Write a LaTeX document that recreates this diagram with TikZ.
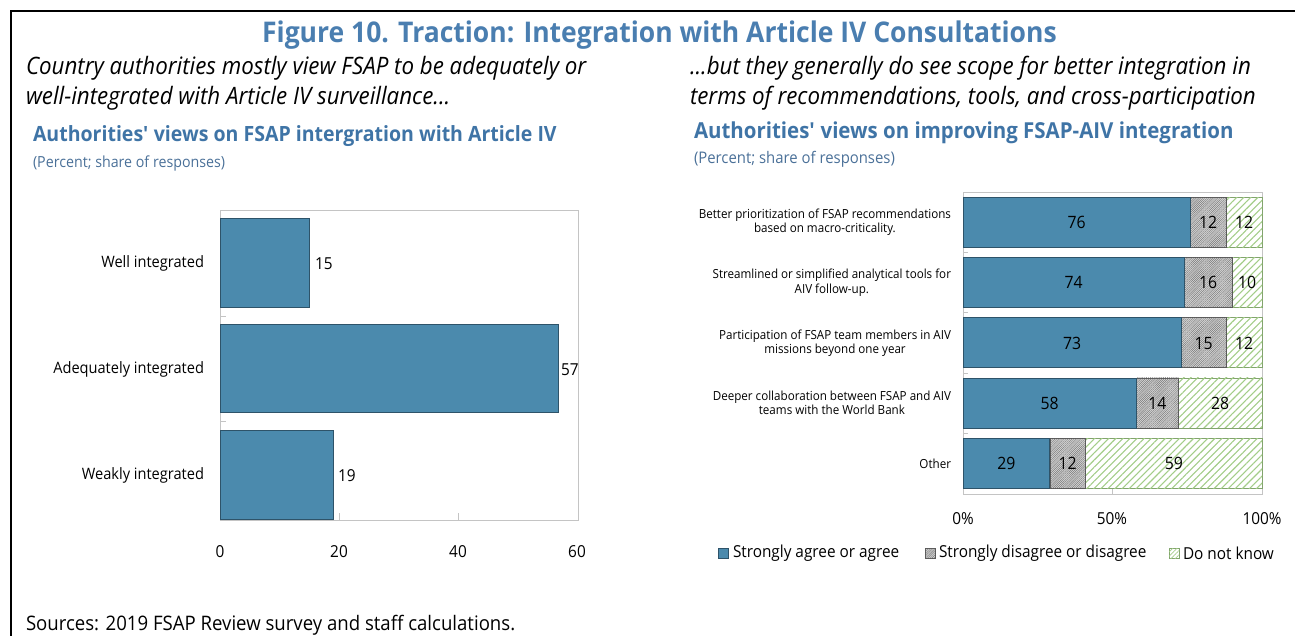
\documentclass[tikz,border=0pt]{standalone}
\usepackage{fontspec}
\setmainfont{Open Sans}[FakeStretch=0.93]
\usetikzlibrary{patterns.meta}
\definecolor{figblue}{HTML}{4A7EB0}
\definecolor{chtblue}{HTML}{3F74A6}
\definecolor{subblue}{HTML}{4A7098}
\definecolor{barblue}{HTML}{4B8AAD}
\definecolor{barline}{HTML}{2E5369}
\definecolor{framegray}{HTML}{C4C4C4}
\definecolor{hgray}{HTML}{D2D2D2}
\definecolor{hgreen}{HTML}{A3CD88}
\tikzset{
  fs/.style={font=\fontsize{#1}{#1}\selectfont},
  fsb/.style={font=\fontsize{#1}{#1}\selectfont\bfseries},
  fsi/.style={font=\fontsize{#1}{#1}\selectfont\itshape},
  txt/.style={inner sep=0pt, outer sep=0pt},
  agree/.style={fill=barblue, draw=barline, line width=0.6pt},
  disag/.style={fill=hgray, draw=gray!70!black, line width=0.4pt},
  disaghatch/.style={pattern={Lines[angle=45,distance=1.5pt,line width=0.3pt]}, pattern color=gray!80!black},
  dkbg/.style={fill=white, draw=hgreen!80!black, line width=0.4pt},
  dkhatch/.style={pattern={Lines[angle=45,distance=5pt,line width=1.1pt]}, pattern color=hgreen},
  pframe/.style={draw=framegray, line width=0.9pt},
  tick/.style={draw=framegray, line width=0.8pt},
}
\begin{document}
\begin{tikzpicture}[x=1pt,y=-1pt]
\useasboundingbox (0,0) rectangle (1295,635);
\clip (0,0) rectangle (1295,635);
% frame
\draw[line width=2pt] (11,636) coordinate (fl) -- (11,11) coordinate (ftl) -- (1296,11) coordinate (fr);

% titles
\node[txt, fsb=28.5, text=figblue, anchor=base] (title) at (659.5,42) {Figure 10. Traction: Integration with Article IV Consultations};
\node[txt, fsi=24, anchor=base west] (sl1) at (26,74) {Country authorities mostly view FSAP to be adequately or};
\node[txt, fsi=24, anchor=base west] (sl2) at (26,104) {well-integrated with Article IV surveillance...};
\node[txt, fsi=24, anchor=base west] (sr1) at (690,74) {...but they generally do see scope for better integration in};
\node[txt, fsi=24, anchor=base west] (sr2) at (690,104) {terms of recommendations, tools, and cross-participation};

\node[txt, fsb=21, text=chtblue, anchor=base west] (lt) at (33,141) {Authorities\textquotesingle{} views on FSAP intergration with Article IV};
\node[txt, fs=15.3, text=subblue, anchor=base west] (ls) at (33,167) {(Percent; share of responses)};
\node[txt, fsb=22, text=chtblue, anchor=base west] (rt) at (694,138) {Authorities\textquotesingle{} views on improving FSAP-AIV integration};
\node[txt, fs=16, text=subblue, anchor=base west] (rs) at (694,163) {(Percent; share of responses)};

% ---------------- left chart ----------------
\draw[pframe] (220,210) rectangle (578,520);
\draw[tick] (339,520) -- (339,513);
\draw[tick] (458,520) -- (458,513);
\draw[tick] (220,316) -- (226,316);
\draw[tick] (220,421) -- (226,421);
\draw[agree] (220,218) rectangle (309.5,307);
\draw[agree] (220,324) rectangle (558,412);
\draw[agree] (220,430) rectangle (333.5,519);
\node[txt, fs=15.7, anchor=east] (c1) at (204,263) {Well integrated};
\node[txt, fs=15.7, anchor=east] (c2) at (204,369) {Adequately integrated};
\node[txt, fs=15.7, anchor=east] (c3) at (204,475) {Weakly integrated};
\node[txt, fs=16.5, anchor=west] (v1) at (315,264) {15};
\node[txt, fs=16.5, anchor=west] (v2) at (561,370) {57};
\node[txt, fs=16.5, anchor=west] (v3) at (338,476) {19};
\node[txt, fs=16.5] (x0) at (220,552) {0};
\node[txt, fs=16.5] (x20) at (339,552) {20};
\node[txt, fs=16.5] (x40) at (458,552) {40};
\node[txt, fs=16.5] (x60) at (577,552) {60};

% ---------------- right chart ----------------
\draw[pframe] (963,192) rectangle (1262,494);
\foreach \yy in {252,312.5,373,433} {\draw[tick] (963,\yy) -- (968,\yy);}
\draw[tick] (1112.5,494) -- (1112.5,488);
\foreach \r/\ty/\a/\d/\k in {1/197/76/12/12, 2/257.3/74/16/10, 3/317.6/73/15/12, 4/377.9/58/14/28, 5/438.2/29/12/59} {
  \pgfmathsetmacro{\xa}{963+2.99*\a}
  \pgfmathsetmacro{\xd}{963+2.99*(\a+\d)}
  \pgfmathsetmacro{\by}{\ty+50}
  \pgfmathsetmacro{\cy}{\ty+25.5}
  \draw[dkbg] (\xd,\ty) rectangle (1262,\by);
  \fill[dkhatch] (\xd,\ty) rectangle (1262,\by);
  \draw[disag] (\xa,\ty) rectangle (\xd,\by);
  \fill[disaghatch] (\xa,\ty) rectangle (\xd,\by);
  \draw[agree] (963,\ty) rectangle (\xa,\by);
  \node[txt, fs=17] (va\r) at ({(963+\xa)/2},\cy) {\a};
  \node[txt, fs=17] (vd\r) at ({(\xa+\xd)/2},\cy) {\d};
  \node[txt, fs=17] (vk\r) at ({(\xd+1262)/2},\cy) {\k};
}
\node[txt, fs=12.5, align=center, anchor=east] (rc1) at (951,222) {Better prioritization of FSAP recommendations\\[2pt]based on macro-criticality.};
\node[txt, fs=12.5, align=center, anchor=east] (rc2) at (951,282.5) {Streamlined or simplified analytical tools for\\[2pt]AIV follow-up.};
\node[txt, fs=12.5, align=center, anchor=east] (rc3) at (951,343) {Participation of FSAP team members in AIV\\[2pt]missions beyond one year};
\node[txt, fs=12.5, align=center, anchor=east] (rc4) at (951,403) {Deeper collaboration between FSAP and AIV\\[2pt]teams with the World Bank};
\node[txt, fs=12.5, anchor=east] (rc5) at (951,464) {Other};
\node[txt, fs=16.5] (p0) at (963,519) {0\%};
\node[txt, fs=16.5] (p50) at (1112,519) {50\%};
\node[txt, fs=16.5] (p100) at (1262,519) {100\%};

% legend
\draw[agree] (718,548) rectangle (728,558);
\node[txt, fs=16.5, anchor=west] (l1) at (733,553) {Strongly agree or agree};
\draw[disag] (925,548) rectangle (935,558);
\fill[disaghatch] (925,548) rectangle (935,558);
\node[txt, fs=16.5, anchor=west] (l2) at (939,553) {Strongly disagree or disagree};
\draw[dkbg] (1169,548) rectangle (1179,558);
\fill[pattern={Lines[angle=45,distance=3pt,line width=0.8pt]}, pattern color=hgreen] (1169,548) rectangle (1179,558);
\node[txt, fs=16.5, anchor=west] (l3) at (1183,553) {Do not know};

% sources
\node[txt, fs=20, anchor=base west] (src) at (26,630) {Sources: 2019 FSAP Review survey and staff calculations.};
\end{tikzpicture}
\end{document}
